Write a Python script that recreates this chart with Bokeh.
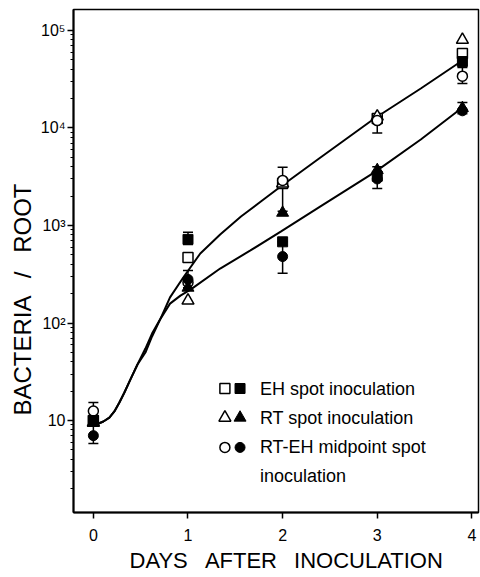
from bokeh.plotting import figure
from bokeh.models import Range1d, FixedTicker, LogTicker, Whisker, TeeHead, ColumnDataSource, Title
from bokeh.core.properties import value
from bokeh.embed import file_html
from bokeh.resources import INLINE

# ---------------- data ----------------
days = [0, 1, 2, 3, 3.9]
eh_open = [10, 470, 2700, 12500, 58000]
eh_filled = [10, 720, 680, 3200, 48000]
rt_open = [9.5, 170, 2700, 13100, 80000]
rt_filled = [9.5, 230, 1350, 3700, 16000]
mid_open = [12.5, 260, 2900, 11900, 34000]
mid_filled = [7.0, 280, 480, 3000, 15000]

err_day = [0, 1, 1, 2, 2, 3, 3, 3.9, 3.9]
err_low = [5.8, 640, 230, 1400, 324, 8900, 2400, 28500, 14000]
err_high = [15.3, 850, 345, 3950, 680, 14000, 4000, 41700, 18200]

# fitted curves
curve_eh_day = [0.03, 0.106, 0.169, 0.222, 0.275, 0.328, 0.392, 0.466, 0.55, 0.62, 0.71,
                0.81, 0.95, 1.13, 1.34, 1.56, 1.77, 1.98, 2.40, 2.97, 3.46, 3.90]
curve_eh_val = [9.1, 9.77, 10.7, 12.4, 15.3, 19.4, 26.4, 37.5, 49.8, 72.8, 111,
                183, 293, 516, 809, 1236, 1762, 2512, 4977, 12500, 25400, 49200]
curve_rt_day = [0.03, 0.106, 0.169, 0.222, 0.275, 0.328, 0.392, 0.466, 0.55, 0.62, 0.71,
                0.81, 0.92, 1.03, 1.34, 1.66, 1.98, 2.40, 2.97, 3.46, 3.90]
curve_rt_val = [9.1, 9.77, 10.7, 12.4, 15.3, 19.4, 26.4, 37.5, 54.7, 78, 111,
                158, 191, 221, 362, 555, 867, 1567, 3500, 7620, 16200]

legend_labels = ["EH spot inoculation", "RT spot inoculation", "RT-EH midpoint spot", "inoculation"]
y_tick_labels = {10: "10", 100: "10\u00b2", 1000: "10\u00b3", 10000: "10\u2074", 100000: "10\u2075"}
x_ticks = [0, 1, 2, 3, 4]

# ---------------- styling / layout ----------------
FONT = "Liberation Sans"
MS = 10

p = figure(width=480, height=577,
           x_range=Range1d(-0.21, 4.07), y_range=Range1d(1.14, 164000),
           y_axis_type="log", output_backend="svg", toolbar_location=None,
           min_border_left=73, min_border_bottom=65, min_border_top=9, min_border_right=2)
p.grid.visible = False
p.outline_line_color = "black"
p.outline_line_width = 1.5
p.background_fill_color = "white"
p.border_fill_color = "white"

for ax in (p.xaxis, p.yaxis):
    ax.axis_line_width = 2
    ax.axis_line_color = "black"
    ax.major_tick_in = 0
    ax.major_tick_out = 6
    ax.major_tick_line_width = 1.5
    ax.major_label_text_font = FONT
    ax.major_label_text_font_size = "16px"
    ax.major_label_text_color = "black"

p.xaxis.ticker = FixedTicker(ticks=x_ticks)
p.xaxis.minor_tick_line_color = None
p.xaxis.major_label_standoff = 10

p.yaxis.ticker = LogTicker(num_minor_ticks=10)
p.yaxis.major_label_overrides = y_tick_labels
p.yaxis.minor_tick_in = 0
p.yaxis.minor_tick_out = 3
p.yaxis.minor_tick_line_width = 1.2
p.yaxis.major_label_standoff = 2

p.add_layout(Title(text="BACTERIA \u2002/\u2002 ROOT", align="left", offset=97,
                   text_font=FONT, text_font_size="24px", text_font_style="normal",
                   text_color="black", standoff=4), "left")
p.add_layout(Title(text="DAYS \u2002AFTER \u2002INOCULATION", align="left", offset=56,
                   text_font=FONT, text_font_size="22px", text_font_style="normal",
                   text_color="black", standoff=4), "below")

# curves
p.line(curve_eh_day, curve_eh_val, line_color="black", line_width=2)
p.line(curve_rt_day, curve_rt_val, line_color="black", line_width=2)

# error bars
esrc = ColumnDataSource(dict(base=err_day, lower=err_low, upper=err_high))
p.add_layout(Whisker(source=esrc, base="base", lower="lower", upper="upper",
                     line_color="black", line_width=1.5,
                     upper_head=TeeHead(size=10, line_width=1.5, line_color="black"),
                     lower_head=TeeHead(size=10, line_width=1.5, line_color="black")))

# markers: open first, filled on top
p.scatter(days, eh_open, marker="square", size=MS, fill_color="white", line_color="black", line_width=1.5)
p.scatter(days, rt_open, marker="triangle", size=MS + 2, fill_color="white", line_color="black", line_width=1.5)
p.scatter(days, mid_open, marker="circle", size=MS, fill_color="white", line_color="black", line_width=1.5)
p.scatter(days, eh_filled, marker="square", size=MS, fill_color="black", line_color="black")
p.scatter(days, rt_filled, marker="triangle", size=MS + 2, fill_color="black", line_color="black")
p.scatter(days, mid_filled, marker="circle", size=MS, fill_color="black", line_color="black")

# hand-made legend (positions are layout)
LX_OPEN, LX_FILLED, LX_TEXT = 1.39, 1.55, 1.76
LY = [21.3, 10.7, 5.3, 2.73]
markers = ["square", "triangle", "circle"]
for i, m in enumerate(markers):
    sz = MS + 2 if m == "triangle" else MS
    p.scatter([LX_OPEN], [LY[i]], marker=m, size=sz, fill_color="white", line_color="black", line_width=1.5)
    p.scatter([LX_FILLED], [LY[i]], marker=m, size=sz, fill_color="black", line_color="black")
p.text([LX_TEXT] * 4, LY, text=legend_labels, text_font=value(FONT), text_font_size="18px",
       text_baseline="middle", text_align="left", text_color="black")

open("out.html", "w").write(file_html(p, INLINE))
